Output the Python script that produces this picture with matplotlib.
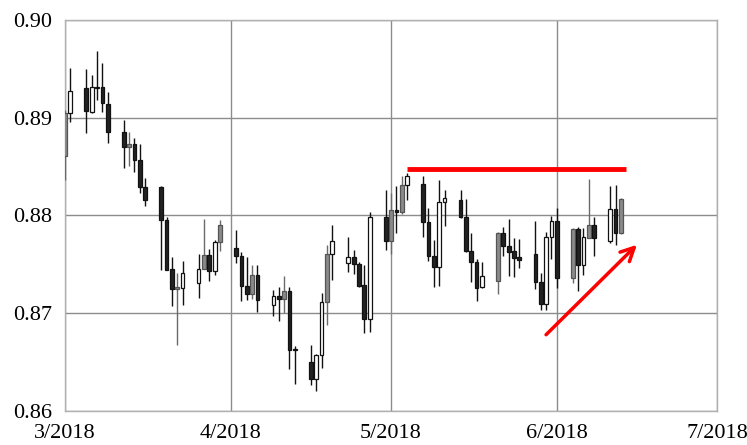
import datetime as dt

import numpy as np
import matplotlib
matplotlib.use('Agg')
import matplotlib.pyplot as plt
import matplotlib.dates as mdates

# daily candles
dates = ['2018-03-01', '2018-03-02', '2018-03-05', '2018-03-06', '2018-03-07', '2018-03-08', '2018-03-09',
         '2018-03-12', '2018-03-13', '2018-03-14', '2018-03-15', '2018-03-16',
         '2018-03-19', '2018-03-20', '2018-03-21', '2018-03-22', '2018-03-23',
         '2018-03-26', '2018-03-27', '2018-03-28', '2018-03-29', '2018-03-30',
         '2018-04-02', '2018-04-03', '2018-04-04', '2018-04-05', '2018-04-06',
         '2018-04-09', '2018-04-10', '2018-04-11', '2018-04-12', '2018-04-13',
         '2018-04-16', '2018-04-17', '2018-04-18', '2018-04-19', '2018-04-20',
         '2018-04-23', '2018-04-24', '2018-04-25', '2018-04-26', '2018-04-27',
         '2018-04-30', '2018-05-01', '2018-05-02', '2018-05-03', '2018-05-04',
         '2018-05-07', '2018-05-08', '2018-05-09', '2018-05-10', '2018-05-11',
         '2018-05-14', '2018-05-15', '2018-05-16', '2018-05-17', '2018-05-18',
         '2018-05-21', '2018-05-22', '2018-05-23', '2018-05-24', '2018-05-25',
         '2018-05-28', '2018-05-29', '2018-05-30', '2018-05-31', '2018-06-01',
         '2018-06-04', '2018-06-05', '2018-06-06', '2018-06-07', '2018-06-08',
         '2018-06-11', '2018-06-12', '2018-06-13']
opens = [0.8861, 0.8905, 0.8930, 0.8906, 0.8930, 0.8931, 0.8914,
         0.8885, 0.8870, 0.8873, 0.8857, 0.8829,
         0.8829, 0.8795, 0.8745, 0.8725, 0.8726,
         0.8731, 0.8745, 0.8760, 0.8743, 0.8773,
         0.8767, 0.8759, 0.8728, 0.8720, 0.8739,
         0.8708, 0.8718, 0.8715, 0.8723, 0.8663,
         0.8650, 0.8633, 0.8657, 0.8711, 0.8761,
         0.8751, 0.8757, 0.8750, 0.8729, 0.8694,
         0.8798, 0.8774, 0.8806, 0.8803, 0.8831,
         0.8832, 0.8793, 0.8758, 0.8747, 0.8814,
         0.8816, 0.8798, 0.8764, 0.8752, 0.8727,
         0.8733, 0.8782, 0.8769, 0.8764, 0.8757,
         0.8761, 0.8732, 0.8709, 0.8778, 0.8794,
         0.8736, 0.8786, 0.8749, 0.8777, 0.8790,
         0.8774, 0.8807, 0.8782]
highs = [0.8908, 0.8951, 0.8950, 0.8944, 0.8968, 0.8956, 0.8926,
         0.8898, 0.8885, 0.8879, 0.8873, 0.8838,
         0.8830, 0.8798, 0.8757, 0.8741, 0.8753,
         0.8761, 0.8796, 0.8766, 0.8775, 0.8795,
         0.8785, 0.8763, 0.8757, 0.8749, 0.8749,
         0.8724, 0.8727, 0.8738, 0.8727, 0.8666,
         0.8668, 0.8658, 0.8721, 0.8770, 0.8790,
         0.8778, 0.8765, 0.8752, 0.8749, 0.8803,
         0.8826, 0.8823, 0.8830, 0.8840, 0.8843,
         0.8840, 0.8808, 0.8775, 0.8836, 0.8826,
         0.8826, 0.8817, 0.8782, 0.8755, 0.8752,
         0.8783, 0.8788, 0.8796, 0.8777, 0.8776,
         0.8794, 0.8741, 0.8783, 0.8799, 0.8808,
         0.8787, 0.8788, 0.8787, 0.8837, 0.8798,
         0.8830, 0.8831, 0.8818]
lows = [0.8836, 0.8896, 0.8884, 0.8905, 0.8918, 0.8906, 0.8874,
        0.8849, 0.8851, 0.8844, 0.8823, 0.8810,
        0.8744, 0.8744, 0.8707, 0.8667, 0.8708,
        0.8716, 0.8745, 0.8733, 0.8739, 0.8764,
        0.8751, 0.8713, 0.8714, 0.8715, 0.8701,
        0.8697, 0.8692, 0.8700, 0.8643, 0.8628,
        0.8627, 0.8620, 0.8644, 0.8688, 0.8734,
        0.8742, 0.8740, 0.8727, 0.8680, 0.8681,
        0.8765, 0.8761, 0.8782, 0.8801, 0.8816,
        0.8778, 0.8753, 0.8727, 0.8728, 0.8789,
        0.8797, 0.8763, 0.8732, 0.8713, 0.8726,
        0.8720, 0.8758, 0.8738, 0.8737, 0.8746,
        0.8725, 0.8703, 0.8703, 0.8755, 0.8726,
        0.8731, 0.8723, 0.8739, 0.8777, 0.8758,
        0.8772, 0.8770, 0.8781]
closes = [0.8905, 0.8927, 0.8907, 0.8931, 0.8931, 0.8915, 0.8885,
          0.8870, 0.8873, 0.8857, 0.8829, 0.8816,
          0.8795, 0.8744, 0.8725, 0.8727, 0.8741,
          0.8745, 0.8760, 0.8743, 0.8773, 0.8790,
          0.8758, 0.8728, 0.8720, 0.8739, 0.8714,
          0.8718, 0.8715, 0.8723, 0.8662, 0.8662,
          0.8633, 0.8657, 0.8711, 0.8761, 0.8774,
          0.8757, 0.8750, 0.8728, 0.8694, 0.8798,
          0.8774, 0.8806, 0.8803, 0.8831, 0.8840,
          0.8793, 0.8758, 0.8747, 0.8814, 0.8818,
          0.8798, 0.8764, 0.8752, 0.8726, 0.8738,
          0.8782, 0.8769, 0.8763, 0.8756, 0.8754,
          0.8732, 0.8709, 0.8778, 0.8794, 0.8736,
          0.8786, 0.8749, 0.8778, 0.8790, 0.8777,
          0.8807, 0.8782, 0.8817]
# body shade as drawn: w = hollow, b = black, g = grey
shades = ['g', 'w', 'b', 'w', 'w', 'b', 'b',
          'b', 'g', 'b', 'b', 'b',
          'b', 'b', 'b', 'g', 'w',
          'w', 'g', 'b', 'w', 'g',
          'b', 'b', 'b', 'g', 'b',
          'w', 'b', 'g', 'b', 'b',
          'b', 'w', 'w', 'g', 'w',
          'w', 'b', 'b', 'b', 'w',
          'b', 'g', 'b', 'g', 'w',
          'b', 'b', 'b', 'w', 'w',
          'b', 'b', 'b', 'b', 'w',
          'g', 'b', 'b', 'b', 'b',
          'b', 'b', 'w', 'w', 'b',
          'g', 'b', 'w', 'g', 'b',
          'w', 'b', 'g']

y_ticks = [0.86, 0.87, 0.88, 0.89, 0.90]
month_starts = ['2018-03-01', '2018-04-01', '2018-05-01', '2018-06-01', '2018-07-01']
month_labels = ['3/2018', '4/2018', '5/2018', '6/2018', '7/2018']

# resistance line and trend arrow (hand drawn on the original)
resist_level = 0.8847
resist_span = ['2018-05-04', '2018-06-14']
arrow_from = ('2018-05-30', 0.8678)
arrow_to = ('2018-06-16', 0.8770)


def to_num(s):
    return mdates.date2num(dt.datetime.strptime(s, '%Y-%m-%d'))


plt.rcParams['font.family'] = ['Liberation Serif', 'DejaVu Serif']

fig = plt.figure(figsize=(7.47, 4.45), dpi=100)
ax = fig.add_axes([0.087, 0.0764, 0.873, 0.879])

x = np.array([to_num(d) for d in dates])
fill = {'w': 'white', 'b': '#222222', 'g': '#8a8a8a'}
edge = {'w': '#111111', 'b': '#111111', 'g': '#555555'}
wick = {'w': '#111111', 'b': '#111111', 'g': '#6a6a6a'}
width = 0.7

for xi, o, h, l, c, s in zip(x, opens, highs, lows, closes, shades):
    ax.vlines(xi, l, h, color=wick[s], lw=1.0, zorder=3)
    lo, hi = min(o, c), max(o, c)
    ax.add_patch(plt.Rectangle((xi - width / 2, lo), width, max(hi - lo, 0.00004),
                               facecolor=fill[s], edgecolor=edge[s], lw=0.9, zorder=4))

ax.hlines(resist_level, to_num(resist_span[0]), to_num(resist_span[1]),
          color='#ff0000', lw=3.5, zorder=5)
ax.annotate('', xy=(to_num(arrow_to[0]), arrow_to[1]),
            xytext=(to_num(arrow_from[0]), arrow_from[1]),
            arrowprops=dict(arrowstyle='->', color='#ff0000', lw=2.5, mutation_scale=24,
                            shrinkA=0, shrinkB=0),
            zorder=5)

ticks_x = [to_num(d) for d in month_starts]
ax.set_xlim(ticks_x[0], ticks_x[-1])
ax.set_ylim(0.86, 0.90)
ax.set_xticks(ticks_x)
ax.set_xticklabels(month_labels)
ax.set_yticks(y_ticks)
ax.set_yticklabels(['%.2f' % v for v in y_ticks])
ax.tick_params(length=0, labelsize=16, colors='black', pad=9)
ax.grid(True, color='#8c8c8c', lw=1.0)
ax.set_axisbelow(True)
for sp in ax.spines.values():
    sp.set_color('#b0b0b0')
    sp.set_linewidth(1.0)

fig.savefig('out.png', dpi=100)
